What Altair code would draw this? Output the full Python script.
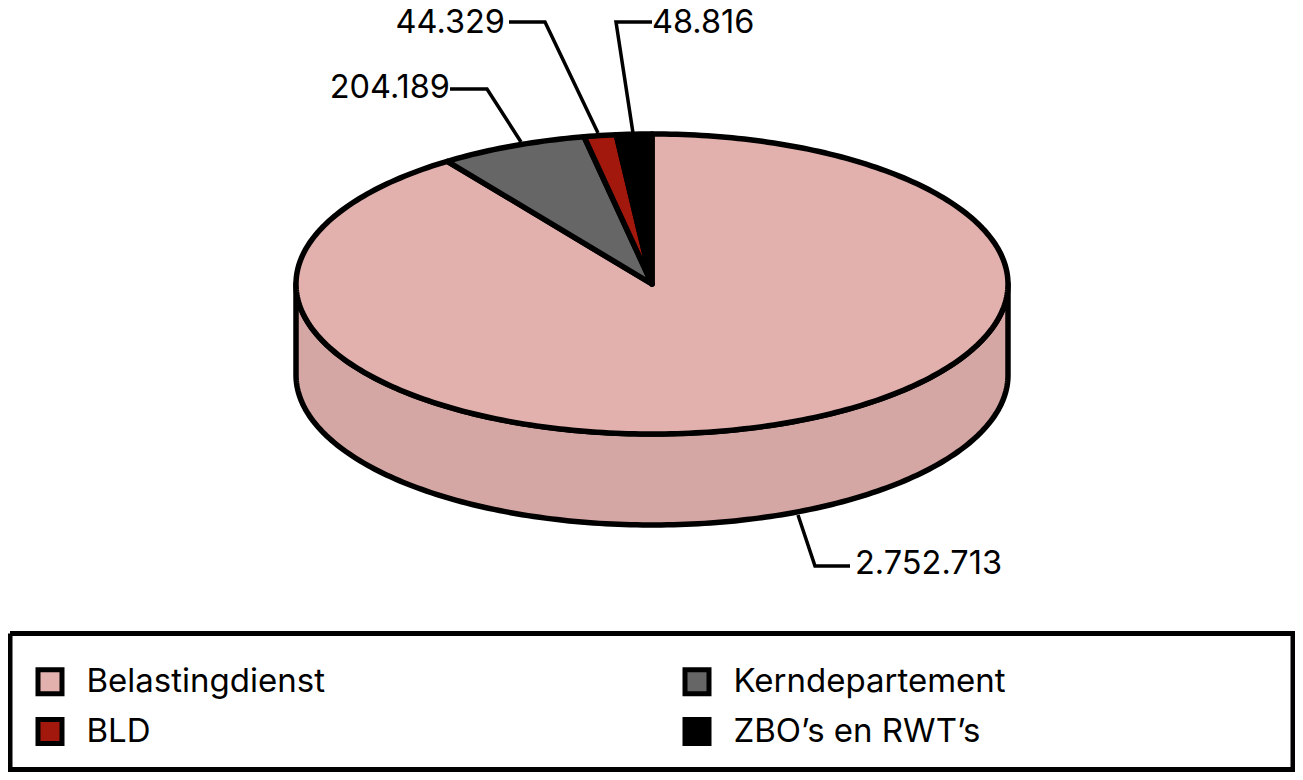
import math
import altair as alt

# --- data ---
categories = ["Belastingdienst", "Kerndepartement", "BLD", "ZBO's en RWT's"]
values = [2752713, 204189, 44329, 48816]
value_labels = ["2.752.713", "204.189", "44.329", "48.816"]
legend_order = ["Belastingdienst", "BLD", "Kerndepartement", "ZBO's en RWT's"]
colors = ["#E2B1AE", "#A3180C", "#666666", "#000000"]
side_color = "#D5A7A4"

# --- layout (svg pixels; the page adds an 8px margin) ---
W, H = 1287, 764
CX, CY, RX, RY, DEPTH = 644, 276, 356, 150, 91
FONT = "Inter"
FS = 32.5
LEGEND_FS = 33


def ell(t, dy=0):
    return [CX + RX * math.sin(t), CY - RY * math.cos(t) + dy]


def arc(a, b, dy=0, step=math.radians(1)):
    n = max(2, int(abs(b - a) / step) + 1)
    return [ell(a + (b - a) * i / n, dy) for i in range(n + 1)]


total = sum(values)
features = []
start = 0.0
for name, v in zip(categories, values):
    end = start + 2 * math.pi * v / total
    ring = [[CX, CY]] + arc(start, end) + [[CX, CY]]
    features.append({"type": "Feature", "properties": {"name": name},
                     "geometry": {"type": "Polygon", "coordinates": [ring]}})
    start = end

side_ring = arc(math.pi / 2, 3 * math.pi / 2) + arc(3 * math.pi / 2, math.pi / 2, DEPTH)
side_ring.append(side_ring[0])
side = {"type": "Feature", "properties": {},
        "geometry": {"type": "Polygon", "coordinates": [side_ring]}}


def line(points):
    return {"type": "Feature", "properties": {},
            "geometry": {"type": "LineString", "coordinates": points}}


leaders = [
    line([[790, 507], [807, 558], [842, 558]]),
    line([[442, 81], [479, 81], [513, 134]]),
    line([[501, 14], [537, 14], [590, 125]]),
    line([[644, 14], [608, 14], [625, 125]]),
]
box = line([[2, 625.5], [1285, 625.5], [1285, 761.5], [2, 761.5], [2, 625.5]])

labels = [
    {"t": value_labels[0], "x": 847, "y": 565.5, "a": "left"},
    {"t": value_labels[1], "x": 442, "y": 90, "a": "right"},
    {"t": value_labels[2], "x": 497, "y": 25, "a": "right"},
    {"t": value_labels[3], "x": 644, "y": 25, "a": "left"},
]

proj = dict(type="identity", scale=1, translate=[0, 0])

side_layer = alt.Chart(alt.Data(values=[side])).mark_geoshape(
    fill=side_color, stroke="black", strokeWidth=5.5, strokeJoin="round"
).project(**proj)

slice_layer = alt.Chart(alt.Data(values=features)).mark_geoshape(
    stroke="black", strokeWidth=5.5, strokeJoin="round"
).encode(
    color=alt.Color(
        "properties.name:N",
        scale=alt.Scale(domain=legend_order, range=colors),
        legend=alt.Legend(
            title=None, orient="none", legendX=25.5, legendY=657, columns=2,
            columnPadding=349, rowPadding=5,
            symbolType="square", symbolSize=576, symbolStrokeColor="black",
            symbolStrokeWidth=5, symbolOpacity=1,
            labelFont=FONT, labelFontSize=LEGEND_FS, labelColor="black", labelOffset=20,
            labelLimit=400, padding=0,
            labelExpr="replace(datum.label, /'/g, '’')",
        ),
    )
).project(**proj)

leader_layer = alt.Chart(alt.Data(values=leaders)).mark_geoshape(
    filled=False, stroke="black", strokeWidth=3.5, strokeJoin="miter"
).project(**proj)

box_layer = alt.Chart(alt.Data(values=[box])).mark_geoshape(
    filled=False, stroke="black", strokeWidth=5
).project(**proj)

text_layers = [
    alt.Chart(alt.Data(values=[r])).mark_text(
        font=FONT, fontSize=FS, color="black", align=r["a"], baseline="alphabetic"
    ).encode(longitude="x:Q", latitude="y:Q", text="t:N").project(**proj)
    for r in labels
]

chart = alt.layer(box_layer, side_layer, slice_layer, leader_layer, *text_layers).properties(
    width=W, height=H, padding=0, autosize=alt.AutoSizeParams(type="none")
).configure_view(stroke=None)

chart.save("out.html", embed_options={"renderer": "svg", "actions": False})
